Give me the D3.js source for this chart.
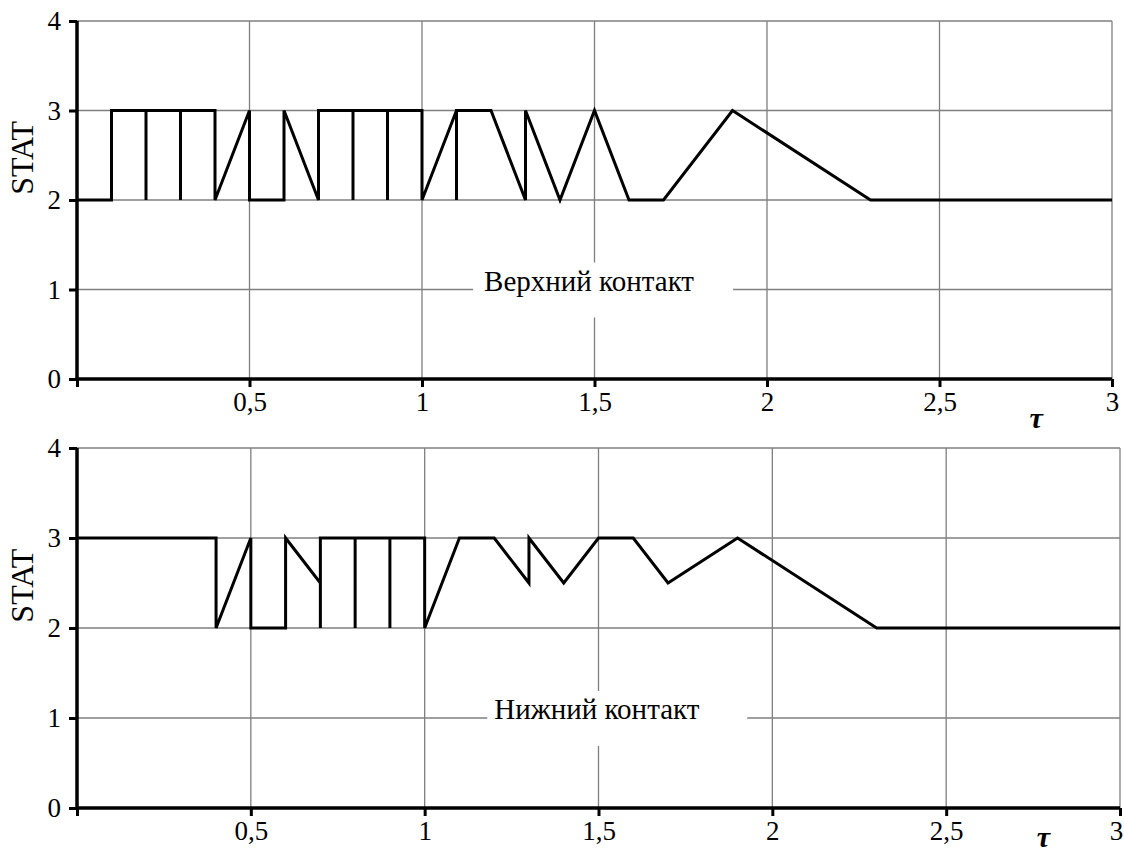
<!DOCTYPE html>
<head>
  <meta charset="utf-8">
  <script src="https://d3js.org/d3.v7.min.js"></script>
  <style>
    body { margin:0; background:#fff; }
    svg text { font-family: "Liberation Serif", "DejaVu Serif", serif; fill:#000; }
  </style>
</head>
<body>
  <script>
    // values
    var tauTop  = [0, 0.1, 0.1, 0.2, 0.2, 0.2, 0.3, 0.3, 0.3, 0.4, 0.4, 0.5, 0.5, 0.6, 0.6, 0.7, 0.7,
                   0.8, 0.8, 0.8, 0.9, 0.9, 0.9, 1.0, 1.0, 1.1, 1.1, 1.1, 1.2, 1.3, 1.3, 1.4, 1.5,
                   1.6, 1.7, 1.9, 2.3, 3.0];
    var statTop = [2, 2, 3, 3, 2, 3, 3, 2, 3, 3, 2, 3, 2, 2, 3, 2, 3,
                   3, 2, 3, 3, 2, 3, 3, 2, 3, 2, 3, 3, 2, 3, 2, 3,
                   2, 2, 3, 2, 2];

    var tauBottom  = [0, 0.4, 0.4, 0.5, 0.5, 0.6, 0.6, 0.7, 0.7, 0.7, 0.8, 0.8, 0.8, 0.9, 0.9, 0.9,
                      1.0, 1.0, 1.1, 1.2, 1.3, 1.3, 1.4, 1.5, 1.6, 1.7, 1.9, 2.3, 3.0];
    var statBottom = [3, 3, 2, 3, 2, 2, 3, 2.5, 2, 3, 3, 2, 3, 3, 2, 3,
                      3, 2, 3, 3, 2.5, 3, 2.5, 3, 3, 2.5, 3, 2, 2];

    var xTicks = [0, 0.5, 1, 1.5, 2, 2.5, 3];
    var yTicks = [0, 1, 2, 3, 4];

    var width = 1124, height = 852;
    var svg = d3.select('body').append('svg').attr('width', width).attr('height', height);

    var fmt = function(d){ return d === 0 ? '' : String(d).replace('.', ','); };
    var serif = '"Liberation Serif", "DejaVu Serif", serif';

    function panel(tau, stat, o)
    {
      var x = d3.scaleLinear().domain([0, 3]).range([o.left, o.right]);
      var y = d3.scaleLinear().domain([0, 4]).range([o.bottom, o.top]);
      var g = svg.append('g');

      // grid
      g.selectAll('.vgrid').data(xTicks.filter(d => d > 0)).enter().append('line')
        .attr('x1', d => x(d)).attr('x2', d => x(d))
        .attr('y1', y(0)).attr('y2', y(4))
        .attr('stroke', '#7f7f7f').attr('stroke-width', 1.3);
      g.selectAll('.hgrid').data(yTicks.filter(d => d > 0)).enter().append('line')
        .attr('x1', x(0)).attr('x2', x(3))
        .attr('y1', d => y(d)).attr('y2', d => y(d))
        .attr('stroke', '#7f7f7f').attr('stroke-width', 1.3);

      // label with white box over grid
      var lx = x(o.labelTau), ly = y(1);
      g.append('rect')
        .attr('x', lx - o.boxL).attr('y', ly - 27)
        .attr('width', o.boxL + o.boxR).attr('height', 55)
        .attr('fill', '#fff');
      g.append('text').attr('x', lx).attr('y', ly + 1)
        .style('font-family', serif).style('font-size', '29px').text(o.label);

      // axes
      var xAxis = d3.axisBottom(x).tickValues(xTicks).tickFormat(fmt).tickSize(8).tickPadding(5);
      var yAxis = d3.axisLeft(y).tickValues(yTicks).tickFormat(d3.format('d')).tickSize(8).tickPadding(8);
      var xg = g.append('g').attr('transform', `translate(0,${y(0)})`).call(xAxis);
      var yg = g.append('g').attr('transform', `translate(${x(0)},0)`).call(yAxis);
      [xg, yg].forEach(function(a){
        a.style('font-family', serif).style('font-size', '27px');
        a.select('.domain').attr('stroke', '#000').attr('stroke-width', 3.5);
        a.selectAll('.tick line').attr('stroke', '#000').attr('stroke-width', 3);
        a.selectAll('.tick text').style('font-family', serif).style('font-size', '27px').style('fill', '#000');
      });
      xg.select('.domain').attr('d', `M${x(0)},0H${x(3)}`);
      yg.select('.domain').attr('d', `M0,${y(4)}V${y(0)}`);
      xg.selectAll('.tick text').filter(d => d === 3).attr('dx', o.lastDx);

      // data line
      var line = d3.line().x((d, i) => x(tau[i])).y(d => y(d));
      g.append('path').datum(stat).attr('d', line)
        .attr('fill', 'none').attr('stroke', '#000').attr('stroke-width', 3)
        .attr('stroke-linejoin', 'miter');

      g.append('text')
        .attr('transform', `translate(${o.left - 44},${y(2.47)}) rotate(-90)`)
        .attr('text-anchor', 'middle')
        .style('font-family', serif).style('font-size', '32px').text('STAT');

      g.append('text').attr('x', x(2.78)).attr('y', o.tauY)
        .style('font-family', serif).style('font-size', '30px')
        .style('font-weight', 'bold').style('font-style', 'italic')
        .attr('text-anchor', 'middle').text('τ');
    }

    panel(tauTop, statTop, {left: 77, right: 1112, top: 21, bottom: 379,
      label: 'Верхний контакт', labelTau: 1.18, boxL: 11, boxR: 249, tauY: 428, lastDx: 0});
    panel(tauBottom, statBottom, {left: 77, right: 1120, top: 448, bottom: 808,
      label: 'Нижний контакт', labelTau: 1.20, boxL: 7, boxR: 253, tauY: 847, lastDx: -4});
  </script>
</body>
